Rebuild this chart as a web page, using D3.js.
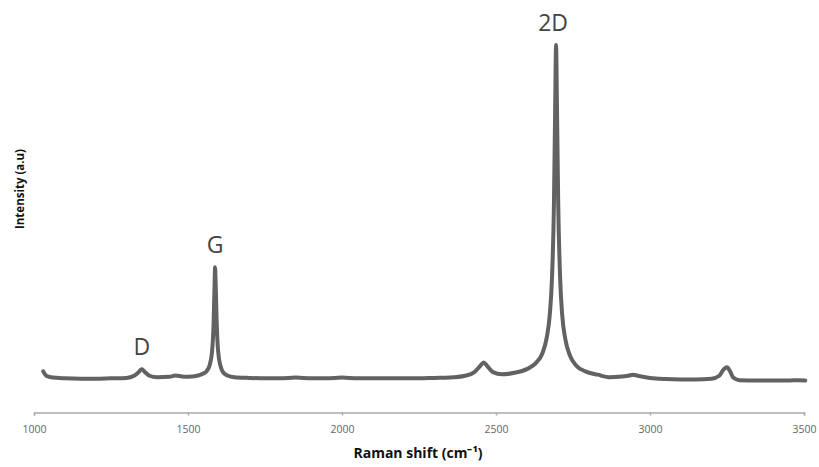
<!DOCTYPE html>
<html>
<head>
<meta charset="utf-8">
<script src="https://cdn.jsdelivr.net/npm/d3@7"></script>
<style>
  body { margin: 0; background: #fff; }
  svg { display: block; }
  .tick text { font-family: "Open Sans", sans-serif; font-size: 10.5px; fill: #666; }
  .axis-title { font-family: "Open Sans", sans-serif; font-weight: bold; fill: #111; }
  .peak-label { font-family: "Open Sans", sans-serif; font-size: 23px; fill: #444; }
</style>
</head>
<body>
<div id="chart"></div>
<script>
// Raman spectrum (wavenumber in cm-1, intensity in a.u.)
const shift = [1030, 1040, 1060, 1100, 1150, 1200, 1250, 1300, 1325, 1340, 1350, 1360, 1375, 1400, 1440, 1460, 1480,
  1500, 1530, 1550, 1560, 1570, 1578, 1583, 1586, 1588, 1590, 1593, 1598, 1606, 1615, 1630, 1650,
  1700, 1750, 1800, 1850, 1900, 1950, 2000, 2050, 2100, 2150, 2200, 2250, 2300, 2350, 2400, 2430, 2450, 2460, 2470, 2490, 2520,
  2560, 2600, 2630, 2650, 2665, 2675, 2682, 2688, 2692, 2695, 2698, 2702, 2708, 2715, 2725, 2740, 2760, 2790, 2830,
  2870, 2900, 2930, 2945, 2960, 3000, 3050, 3100, 3150, 3200, 3225, 3240, 3250, 3260, 3270, 3290, 3350, 3400, 3450, 3480, 3504];
const intensity = [112, 100, 95, 93, 92, 92, 93, 94, 100, 110, 118, 110, 100, 96, 97, 101, 98,
  97, 100, 106, 112, 128, 165, 240, 340, 395, 345, 250, 165, 125, 108, 100, 96,
  94, 93, 93, 95, 93, 93, 95, 93, 93, 93, 93, 93, 94, 95, 100, 110, 128, 136, 128, 110, 104,
  108, 118, 135, 160, 205, 270, 370, 560, 820, 1000, 830, 570, 370, 265, 200, 155, 128, 112, 103,
  96, 97, 100, 103, 100, 94, 91, 90, 90, 92, 100, 118, 123, 112, 95, 88, 87, 87, 87, 88, 87];

const xTicks = [1000, 1500, 2000, 2500, 3000, 3500];
const peakNames = ['D', 'G', '2D'];
const peakShift = [1350, 1588, 2695];
const peakIntensity = [118, 395, 1000];

const width = 819, height = 467;
const margin = { left: 34, right: 15, top: 45, bottom: 55 };

const x = d3.scaleLinear().domain([1000, 3500]).range([margin.left, width - margin.right]);
const y = d3.scaleLinear().domain([0, 1000]).range([412.5, margin.top]);

const svg = d3.select('#chart').append('svg')
    .attr('width', width)
    .attr('height', height);

// x axis
const xAxis = svg.append('g')
    .attr('transform', 'translate(0,' + y(0) + ')')
    .call(d3.axisBottom(x).tickValues(xTicks).tickSize(3).tickPadding(10).tickFormat(d3.format('d')));
xAxis.select('.domain').attr('stroke', '#aaa').attr('stroke-width', 1.5);
xAxis.selectAll('.tick line').attr('stroke', '#aaa').attr('stroke-width', 1.5);

svg.append('text')
    .attr('class', 'axis-title')
    .attr('x', 418)
    .attr('y', 458)
    .attr('text-anchor', 'middle')
    .style('font-size', '14px')
    .text('Raman shift (cm⁻¹)');

svg.append('text')
    .attr('class', 'axis-title')
    .attr('transform', 'translate(24,189) rotate(-90)')
    .attr('text-anchor', 'middle')
    .style('font-size', '11.5px')
    .text('Intensity (a.u)');

// spectrum
const points = shift.map((s, i) => [s, intensity[i]]);
svg.append('path')
    .datum(points)
    .attr('fill', 'none')
    .attr('stroke', '#626262')
    .attr('stroke-width', 4)
    .attr('stroke-linejoin', 'round')
    .attr('stroke-linecap', 'round')
    .attr('d', d3.line().x(d => x(d[0])).y(d => y(d[1])).curve(d3.curveMonotoneX));

// peak labels
svg.append('g')
    .selectAll('text').data(peakNames)
    .enter()
    .append('text')
    .attr('class', 'peak-label')
    .attr('text-anchor', 'middle')
    .attr('x', (d, i) => x(peakShift[i]) + (i === 2 ? -3 : 0))
    .attr('y', (d, i) => y(peakIntensity[i]) - 14)
    .text(d => d);
</script>
</body>
</html>
